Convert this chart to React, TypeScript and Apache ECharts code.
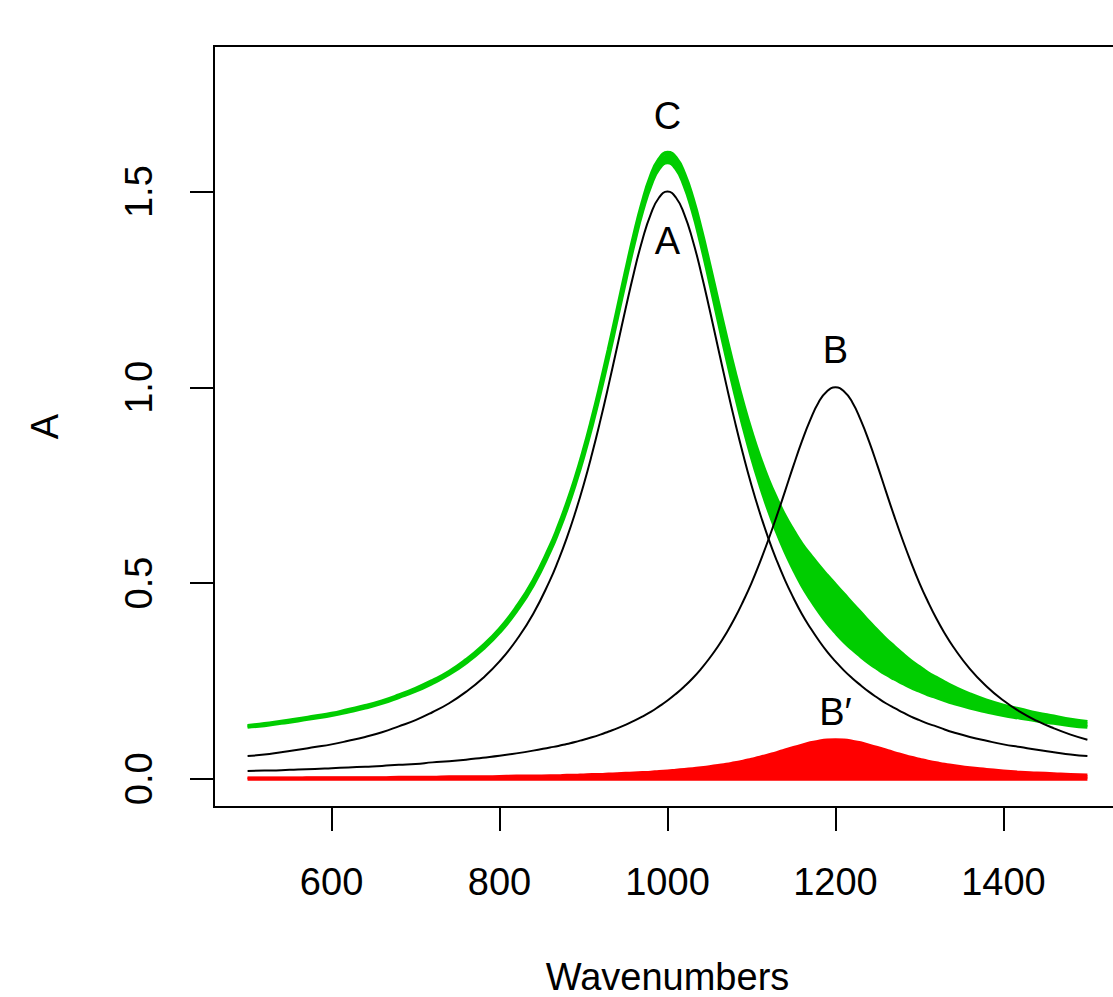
import React, { useEffect, useRef } from "react";
import * as echarts from "echarts";

// Wavenumber grid (x) - denser around the two peaks
const wavenumbers = [
  500, 520, 540, 560, 580, 600, 620, 640, 660, 680, 700, 720, 740, 760, 780, 800, 820, 840, 860,
  870, 880, 890, 900, 910, 920, 930, 940, 950, 960, 970, 980, 990, 1000, 1010, 1020, 1030, 1040, 1050, 1060,
  1070, 1080, 1090, 1100, 1110, 1120, 1130, 1140, 1150, 1160, 1170, 1180, 1190, 1200, 1210, 1220, 1230, 1240,
  1250, 1260, 1270, 1280, 1290, 1300, 1310, 1320, 1330, 1340,
  1360, 1380, 1400, 1420, 1440, 1460, 1480, 1500,
];

// Band A (peak near 1000, height 1.5)
const peakA = [
  0.058, 0.062, 0.068, 0.074, 0.081, 0.088, 0.097, 0.107, 0.119, 0.134, 0.150, 0.170, 0.193, 0.222, 0.257,
  0.300, 0.354, 0.421, 0.507,
  0.558, 0.615, 0.679, 0.750, 0.829, 0.915, 1.007, 1.103, 1.200, 1.293, 1.376, 1.442, 1.485, 1.500, 1.485,
  1.442, 1.376, 1.293, 1.200, 1.103, 1.007, 0.915, 0.829, 0.750, 0.679, 0.615, 0.558, 0.507, 0.462, 0.421,
  0.386, 0.354, 0.325, 0.300, 0.277, 0.257, 0.239, 0.222, 0.207, 0.193, 0.181, 0.170, 0.159, 0.150, 0.141,
  0.134, 0.126, 0.119,
  0.107, 0.097, 0.088, 0.081, 0.074, 0.068, 0.062, 0.058,
];

// Band B (peak near 1200, height 1.0)
const peakB = [
  0.020, 0.021, 0.022, 0.024, 0.025, 0.027, 0.029, 0.031, 0.033, 0.036, 0.038, 0.042, 0.045, 0.049, 0.054,
  0.059, 0.065, 0.072, 0.080,
  0.084, 0.089, 0.094, 0.100, 0.106, 0.113, 0.121, 0.129, 0.138, 0.148, 0.159, 0.171, 0.185, 0.200, 0.217,
  0.236, 0.257, 0.281, 0.308, 0.338, 0.372, 0.410, 0.453, 0.500, 0.553, 0.610, 0.671, 0.735, 0.800, 0.862,
  0.917, 0.962, 0.990, 1.000, 0.990, 0.962, 0.917, 0.862, 0.800, 0.735, 0.671, 0.610, 0.553, 0.500, 0.453,
  0.410, 0.372, 0.338,
  0.281, 0.236, 0.200, 0.171, 0.148, 0.129, 0.113, 0.100,
];

// Band B' (small contribution, peak ~0.1) - red filled area
const peakBprime = [
  0.002, 0.002, 0.002, 0.002, 0.003, 0.003, 0.003, 0.003, 0.003, 0.004, 0.004, 0.004, 0.005, 0.005, 0.005,
  0.006, 0.007, 0.007, 0.008,
  0.008, 0.009, 0.009, 0.010, 0.011, 0.011, 0.012, 0.013, 0.014, 0.015, 0.016, 0.017, 0.019, 0.020, 0.022,
  0.024, 0.026, 0.028, 0.031, 0.034, 0.037, 0.041, 0.045, 0.050, 0.055, 0.061, 0.067, 0.074, 0.080, 0.086,
  0.092, 0.096, 0.099, 0.100, 0.099, 0.096, 0.092, 0.086, 0.080, 0.074, 0.067, 0.061, 0.055, 0.050, 0.045,
  0.041, 0.037, 0.034,
  0.028, 0.024, 0.020, 0.017, 0.015, 0.013, 0.011, 0.010,
];

// Composite spectrum C (green band): lower and upper edges
const compositeLower = [
  0.133, 0.137, 0.143, 0.149, 0.156, 0.163, 0.172, 0.182, 0.194, 0.209, 0.225, 0.245, 0.268, 0.297, 0.332,
  0.375, 0.429, 0.496, 0.582,
  0.633, 0.690, 0.754, 0.825, 0.904, 0.990, 1.082, 1.178, 1.275, 1.368, 1.451, 1.517, 1.560, 1.575, 1.560,
  1.517, 1.451, 1.368, 1.275, 1.178, 1.082, 0.990, 0.904, 0.825, 0.754, 0.690, 0.633, 0.582, 0.537, 0.496,
  0.461, 0.429, 0.400, 0.375, 0.352, 0.332, 0.314, 0.297, 0.282, 0.268, 0.256, 0.245, 0.234, 0.225, 0.216,
  0.209, 0.201, 0.194,
  0.182, 0.172, 0.163, 0.156, 0.149, 0.143, 0.137, 0.133,
];
const compositeUpper = [
  0.135, 0.140, 0.146, 0.152, 0.159, 0.166, 0.176, 0.186, 0.198, 0.213, 0.230, 0.250, 0.273, 0.303, 0.339,
  0.382, 0.437, 0.505, 0.592,
  0.643, 0.701, 0.765, 0.837, 0.917, 1.004, 1.097, 1.194, 1.292, 1.386, 1.470, 1.538, 1.582, 1.599, 1.586,
  1.545, 1.482, 1.402, 1.312, 1.219, 1.127, 1.039, 0.958, 0.885, 0.820, 0.763, 0.714, 0.670, 0.633, 0.599,
  0.571, 0.544, 0.519, 0.495, 0.471, 0.447, 0.424, 0.400, 0.378, 0.356, 0.337, 0.318, 0.300, 0.285, 0.270,
  0.258, 0.246, 0.235,
  0.216, 0.200, 0.187, 0.177, 0.167, 0.159, 0.151, 0.145,
];

const xTicks = [600, 800, 1000, 1200, 1400];
const yTicks = [0, 0.5, 1, 1.5];

const labelNames = ["C", "A", "B", "B\u2032"];
const labelX = [1000, 1000, 1200, 1200];
const labelY = [1.692, 1.375, 1.095, 0.171];

const FONT = "'Liberation Sans', Arial, Helvetica, sans-serif";
const GREEN = "#00CD00";
const RED = "#FF0000";

const pairs = (ys: number[]) => wavenumbers.map((x, i) => [x, ys[i]]);

export default function App() {
  const ref = useRef<HTMLDivElement>(null);

  useEffect(() => {
    if (!ref.current) return;
    const chart = echarts.init(ref.current, null, { renderer: "svg" });
    const lineBase = { type: "line", smooth: true, symbol: "none", silent: true };
    const option = {
      animation: false,
      backgroundColor: "#ffffff",
      textStyle: { fontFamily: FONT },
      grid: {
        left: 214,
        top: 46,
        width: 907,
        height: 761,
        outerBoundsMode: "none",
        containLabel: false,
        show: true,
        borderColor: "#000",
        borderWidth: 2,
        backgroundColor: "transparent",
      },
      xAxis: {
        type: "value",
        min: 460,
        max: 1540,
        name: "Wavenumbers",
        nameLocation: "middle",
        nameGap: 151,
        nameTextStyle: { fontSize: 38, color: "#000", fontFamily: FONT },
        axisLine: { show: false, onZero: false },
        axisTick: { show: true, length: 24, lineStyle: { color: "#000", width: 2 }, customValues: xTicks },
        axisLabel: {
          show: true,
          customValues: xTicks,
          margin: 56,
          fontSize: 38,
          color: "#000",
          fontFamily: FONT,
          formatter: (v: number) => String(v),
        },
        splitLine: { show: false },
      },
      yAxis: {
        type: "value",
        min: -0.072,
        max: 1.872,
        name: "A",
        nameLocation: "middle",
        nameGap: 150,
        nameRotate: 90,
        nameTextStyle: { fontSize: 38, color: "#000", fontFamily: FONT },
        axisLine: { show: false, onZero: false },
        axisTick: { show: true, length: 24, lineStyle: { color: "#000", width: 2 }, customValues: yTicks },
        axisLabel: {
          show: true,
          customValues: yTicks,
          rotate: 90,
          margin: 56,
          fontSize: 38,
          color: "#000",
          fontFamily: FONT,
          formatter: (v: number) => v.toFixed(1),
        },
        splitLine: { show: false },
      },
      series: [
        // green band: polygon between the lower and upper edges of C
        {
          type: "custom",
          name: "C band",
          silent: true,
          coordinateSystem: "cartesian2d",
          data: [[wavenumbers[0], compositeLower[0]]],
          renderItem: (_params: any, api: any) => {
            const top = wavenumbers.map((x, i) => api.coord([x, compositeUpper[i]]));
            const bottom = wavenumbers.map((x, i) => api.coord([x, compositeLower[i]])).reverse();
            return {
              type: "polygon",
              shape: { points: top.concat(bottom) },
              style: { fill: GREEN, stroke: "none" },
            };
          },
        },
        {
          ...lineBase,
          name: "C upper",
          data: pairs(compositeUpper),
          lineStyle: { color: GREEN, width: 4 },
        },
        {
          ...lineBase,
          name: "C lower",
          data: pairs(compositeLower),
          lineStyle: { color: GREEN, width: 4 },
        },
        {
          ...lineBase,
          smooth: false,
          name: "B' baseline",
          data: wavenumbers.map((x) => [x, 0]),
          lineStyle: { color: RED, width: 4 },
        },
        {
          ...lineBase,
          name: "B'",
          data: pairs(peakBprime),
          lineStyle: { color: RED, width: 3 },
          areaStyle: { color: RED, opacity: 1 },
        },
        {
          ...lineBase,
          name: "A",
          data: pairs(peakA),
          lineStyle: { color: "#000", width: 2 },
        },
        {
          ...lineBase,
          name: "B",
          data: pairs(peakB),
          lineStyle: { color: "#000", width: 2 },
        },
        {
          type: "scatter",
          name: "labels",
          silent: true,
          z: 20,
          symbolSize: 0,
          itemStyle: { color: "#000", opacity: 1 },
          data: labelNames.map((n, i) => ({ name: n, value: [labelX[i], labelY[i]] })),
          label: {
            show: true,
            position: "inside",
            formatter: "{b}",
            fontSize: 38,
            color: "#000000",
            opacity: 1,
            fontFamily: FONT,
            textBorderWidth: 0,
          },
        },
      ],
    };
    chart.setOption(option as any);
    return () => chart.dispose();
  }, []);

  return (
    <div
      style={{
        position: "absolute",
        left: 0,
        top: 0,
        width: 1113,
        height: 997,
        overflow: "hidden",
        background: "#fff",
      }}
    >
      <div ref={ref} style={{ width: 1130, height: 997 }} />
    </div>
  );
}
